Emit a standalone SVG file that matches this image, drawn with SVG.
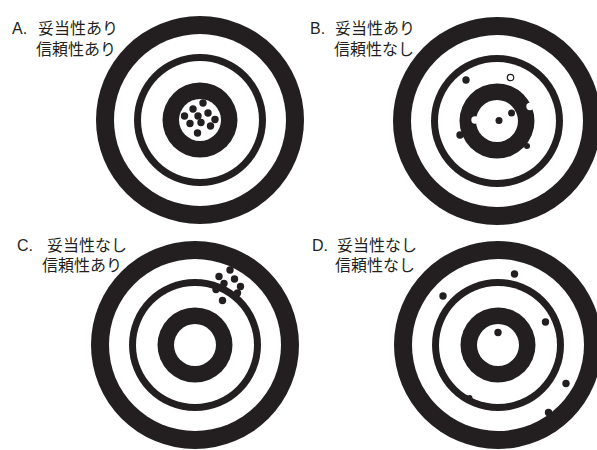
<svg xmlns="http://www.w3.org/2000/svg" xmlns:xlink="http://www.w3.org/1999/xlink" width="597" height="450" viewBox="0 0 597 450">
  <style>
    .blk { fill: #231f20; }
    .wht { fill: #ffffff; }
    .dot { fill: #231f20; }
    .wdot { fill: #ffffff; }
    .hdot { fill: #ffffff; stroke: #231f20; stroke-width: 1.2; }
    .lbl { font-family: "Liberation Sans", "Noto Sans CJK JP", sans-serif; font-size: 16px; fill: #231f20; }
  </style>
  <defs>
    <g id="target">
      <circle class="blk" r="104"/>
      <circle class="wht" r="86"/>
      <circle class="blk" r="66"/>
      <circle class="wht" r="59"/>
      <circle class="blk" r="37.5"/>
      <circle class="wht" r="21"/>
    </g>
  </defs>
  <rect width="597" height="450" fill="#ffffff"/>

  <g id="targetA">
    <use xlink:href="#target" href="#target" x="200" y="120"/>
    <circle class="dot" cx="193" cy="109" r="3.7"/>
    <circle class="dot" cx="203" cy="103" r="3.7"/>
    <circle class="dot" cx="184.5" cy="116" r="3.7"/>
    <circle class="dot" cx="198" cy="116" r="3.7"/>
    <circle class="dot" cx="208" cy="113" r="3.7"/>
    <circle class="dot" cx="215" cy="119.5" r="3.7"/>
    <circle class="dot" cx="190" cy="123.5" r="3.7"/>
    <circle class="dot" cx="201" cy="122.5" r="3.7"/>
    <circle class="dot" cx="210.5" cy="126" r="3.7"/>
    <circle class="dot" cx="197.5" cy="133" r="3.7"/>
    <text class="lbl" y="34"><tspan x="12">A.</tspan><tspan x="38">妥当性あり</tspan></text>
    <text class="lbl" x="36" y="55">信頼性あり</text>
  </g>

  <g id="targetB">
    <use xlink:href="#target" href="#target" x="497" y="121"/>
    <circle class="dot" cx="466" cy="80" r="3.7"/>
    <circle class="hdot" cx="510.5" cy="77.5" r="3.2"/>
    <circle class="wdot" cx="530" cy="106.5" r="3.7"/>
    <circle class="wdot" cx="475" cy="120" r="3.7"/>
    <circle class="dot" cx="499" cy="120.5" r="3.5"/>
    <circle class="dot" cx="511.5" cy="113" r="3.5"/>
    <circle class="dot" cx="460" cy="135" r="3.7"/>
    <circle class="dot" cx="527" cy="146" r="3"/>
    <text class="lbl" y="34"><tspan x="310">B.</tspan><tspan x="335">妥当性あり</tspan></text>
    <text class="lbl" x="334" y="55">信頼性なし</text>
  </g>

  <g id="targetC">
    <use xlink:href="#target" href="#target" x="195" y="345"/>
    <circle class="dot" cx="230" cy="270" r="3.7"/>
    <circle class="dot" cx="219" cy="276.5" r="3.7"/>
    <circle class="dot" cx="234.5" cy="279" r="3.7"/>
    <circle class="dot" cx="224" cy="283.5" r="3.7"/>
    <circle class="dot" cx="240.5" cy="286.5" r="3.7"/>
    <circle class="dot" cx="216" cy="289.5" r="3.7"/>
    <circle class="dot" cx="237.5" cy="293" r="3.7"/>
    <circle class="dot" cx="222.5" cy="300.5" r="3.7"/>
    <text class="lbl" y="251"><tspan x="17">C.</tspan><tspan x="47">妥当性なし</tspan></text>
    <text class="lbl" x="42" y="271">信頼性あり</text>
  </g>

  <g id="targetD">
    <use xlink:href="#target" href="#target" x="498" y="345"/>
    <circle class="dot" cx="514.5" cy="274" r="3.7"/>
    <circle class="dot" cx="443" cy="296" r="3.7"/>
    <circle class="dot" cx="545.5" cy="322" r="3.7"/>
    <circle class="dot" cx="498" cy="332.5" r="3.7"/>
    <circle class="dot" cx="566" cy="383.5" r="3.7"/>
    <circle class="dot" cx="469.5" cy="398" r="3"/>
    <circle class="dot" cx="548.5" cy="412.5" r="3.7"/>
    <circle class="dot" cx="487" cy="433" r="2.5"/>
    <text class="lbl" y="251"><tspan x="312">D.</tspan><tspan x="337">妥当性なし</tspan></text>
    <text class="lbl" x="335" y="271">信頼性なし</text>
  </g>

  <g id="connectors"/>
</svg>
